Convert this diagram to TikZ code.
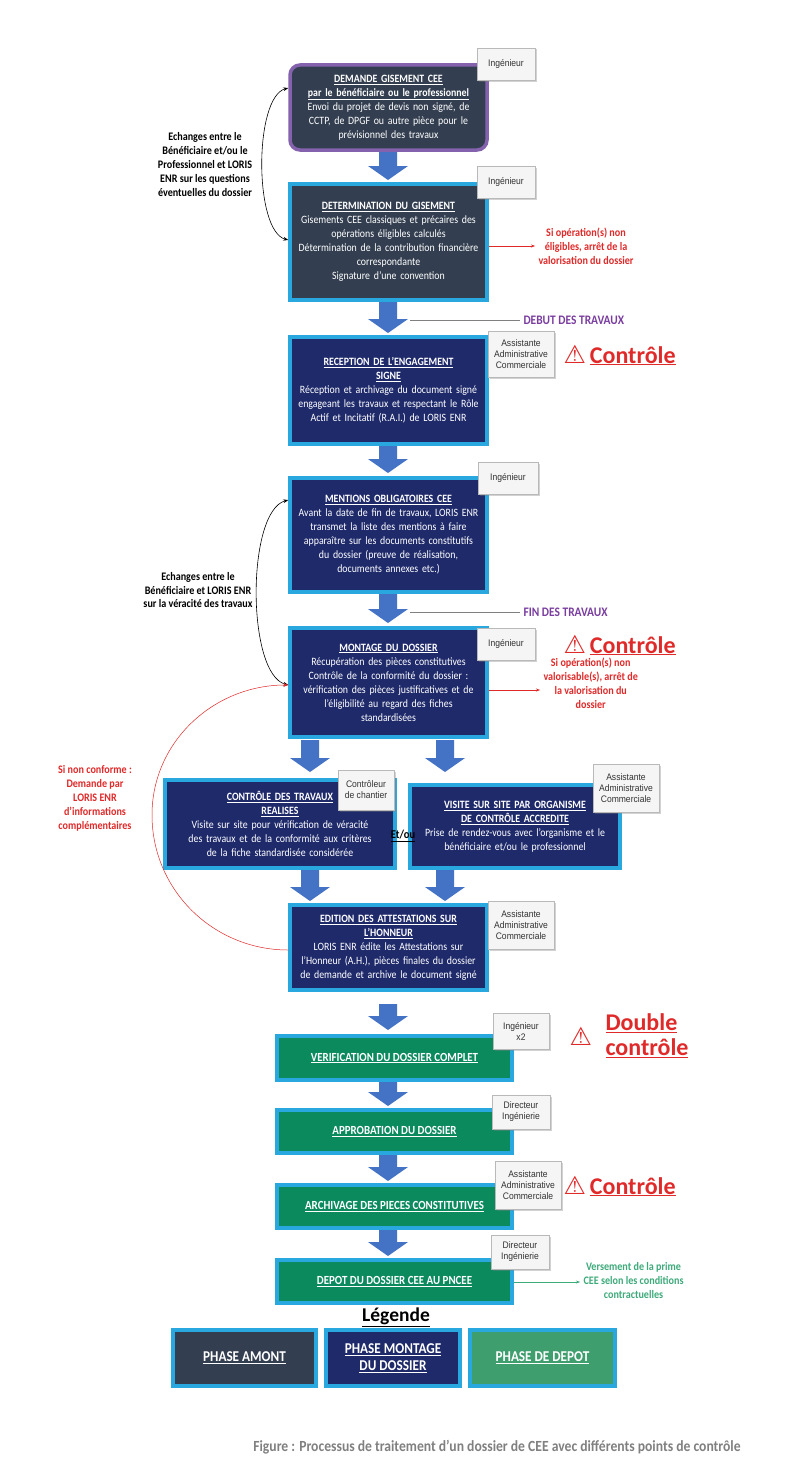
\documentclass[tikz,border=0pt]{standalone}
\usepackage{fontspec}
\setmainfont{Carlito}[FakeStretch=0.88]
\newfontfamily\arialf{Liberation Sans}[FakeStretch=0.9]
\newfontfamily\wideC{Carlito}
\newfontfamily\symf{DejaVu Sans}
\usetikzlibrary{shadows,arrows.meta}
\definecolor{slate}{HTML}{333F50}
\definecolor{navy}{HTML}{1F2A6B}
\definecolor{cyanb}{HTML}{29A8E0}
\definecolor{purp}{HTML}{8462AE}
\definecolor{grn}{HTML}{0B8A5E}
\definecolor{lgrn}{HTML}{3E9E6E}
\definecolor{barrow}{HTML}{4472C4}
\definecolor{redc}{HTML}{E02A2A}
\definecolor{travc}{HTML}{7A3DA0}
\definecolor{txtgrn}{HTML}{3DAA7A}
\newcommand{\ul}[1]{\underline{#1}}
\newcommand{\blockarrow}[3]{% x, ytop, ybottom
  \fill[barrow] (#1-9,#2) -- (#1+9,#2) -- (#1+9,#3-14) -- (#1+20,#3-14) -- (#1,#3) -- (#1-20,#3-14) -- (#1-9,#3-14) -- cycle;}
\newcommand{\tri}{{\symf\fontsize{25}{25}\selectfont ⚠}}
\begin{document}
\begin{tikzpicture}[x=1pt,y=-1pt,
  box/.style={draw=cyanb,line width=3.5pt,text=white,align=center,font=\fontsize{11.2}{14}\selectfont,inner sep=2pt},
  amont/.style={box,fill=slate},
  montage/.style={box,fill=navy},
  depot/.style={box,fill=grn,font=\fontsize{12.4}{14}\selectfont\bfseries},
  tag/.style={draw=gray!55,fill=gray!8,drop shadow={opacity=0.35,shadow xshift=1.5pt,shadow yshift=-1.5pt},font=\arialf\fontsize{9.5}{11}\selectfont,align=center,inner sep=3pt,text=black!80},
  side/.style={font=\bfseries\fontsize{11.5}{14}\selectfont,align=center},
  ctrl/.style={text=redc,font=\wideC\bfseries\fontsize{24}{25}\selectfont,align=left,anchor=west},
  trav/.style={text=travc,font=\bfseries\fontsize{13}{14}\selectfont,anchor=west}]
\useasboundingbox[fill=white] (0,0) rectangle (791,1472);

% main boxes
\node[amont,draw=purp,rounded corners=10pt,minimum width=197,minimum height=85,text width=190] (b1) at (388.5,107.5)
 {\textbf{\ul{DEMANDE GISEMENT CEE}}\\\textbf{\ul{par le bénéficiaire ou le professionnel}}\\Envoi du projet de devis non signé, de\\CCTP, de DPGF ou autre pièce pour le\\prévisionnel des travaux};
\node[amont,minimum width=197,minimum height=116,text width=190] (b2) at (388.5,242)
 {\textbf{\ul{DETERMINATION DU GISEMENT}}\\Gisements CEE classiques et précaires des\\opérations éligibles calculés\\Détermination de la contribution financière\\correspondante\\Signature d’une convention};
\node[montage,minimum width=197,minimum height=107,text width=190] (b3) at (388.5,390.5)
 {\textbf{\ul{RECEPTION DE L’ENGAGEMENT}}\\\textbf{\ul{SIGNE}}\\Réception et archivage du document signé\\engageant les travaux et respectant le Rôle\\Actif et Incitatif (R.A.I.) de LORIS ENR};
\node[montage,minimum width=197,minimum height=114,text width=190] (b4) at (388.5,535)
 {\textbf{\ul{MENTIONS OBLIGATOIRES CEE}}\\Avant la date de fin de travaux, LORIS ENR\\transmet la liste des mentions à faire\\apparaître sur les documents constitutifs\\du dossier (preuve de réalisation,\\documents annexes etc.)};
\node[montage,minimum width=197,minimum height=109,text width=190] (b5) at (388.5,682.5)
 {\textbf{\ul{MONTAGE DU DOSSIER}}\\Récupération des pièces constitutives\\Contrôle de la conformité du dossier :\\vérification des pièces justificatives et de\\l’éligibilité au regard des fiches\\standardisées};
\node[montage,minimum width=230,minimum height=88,text width=222] (b6) at (280,824)
 {\textbf{\ul{CONTRÔLE DES TRAVAUX}}\\\textbf{\ul{REALISES}}\\Visite sur site pour vérification de véracité\\des travaux et de la conformité aux critères\\de la fiche standardisée considérée};
\node[montage,minimum width=210,minimum height=83,text width=204] (b7) at (515,826.5)
 {\textbf{\ul{VISITE SUR SITE PAR ORGANISME}}\\\textbf{\ul{DE CONTRÔLE ACCREDITE}}\\Prise de rendez-vous avec l’organisme et le\\bénéficiaire et/ou le professionnel};
\node[montage,minimum width=197,minimum height=85,text width=190] (b8) at (388.5,947.5)
 {\textbf{\ul{EDITION DES ATTESTATIONS SUR}}\\\textbf{\ul{L’HONNEUR}}\\LORIS ENR édite les Attestations sur\\l’Honneur (A.H.), pièces finales du dossier\\de demande et archive le document signé};
\node[depot,minimum width=235,minimum height=44] (b9) at (394.5,1058) {\ul{VERIFICATION DU DOSSIER COMPLET}};
\node[depot,minimum width=235,minimum height=43] (b10) at (394.5,1131.5) {\ul{APPROBATION DU DOSSIER}};
\node[depot,minimum width=235,minimum height=43] (b11) at (394.5,1206.5) {\ul{ARCHIVAGE DES PIECES CONSTITUTIVES}};
\node[depot,minimum width=235,minimum height=43] (b12) at (394.5,1281.5) {\ul{DEPOT DU DOSSIER CEE AU PNCEE}};

% block arrows
\blockarrow{388}{152}{180}
\blockarrow{388}{302}{333}
\blockarrow{388}{446}{473}
\blockarrow{388}{594}{623}
\blockarrow{310}{740}{772}
\blockarrow{445}{740}{772}
\blockarrow{310}{870}{901}
\blockarrow{445}{870}{901}
\blockarrow{388}{1004}{1030}
\blockarrow{388}{1082}{1106}
\blockarrow{388}{1155}{1181}
\blockarrow{388}{1230}{1256}

% tags
\node[tag,minimum width=58,minimum height=32] (t1) at (506,64) {Ingénieur};
\node[tag,minimum width=58,minimum height=32] (t2) at (506,182) {Ingénieur};
\node[tag,minimum width=66,minimum height=46] (t3) at (521,354) {Assistante\\Administrative\\Commerciale};
\node[tag,minimum width=60,minimum height=32] (t4) at (508,478) {Ingénieur};
\node[tag,minimum width=58,minimum height=32] (t5) at (506,644) {Ingénieur};
\node[tag,minimum width=56,minimum height=40] (t6) at (366,790) {Contrôleur\\de chantier};
\node[tag,minimum width=66,minimum height=48] (t7) at (626,788) {Assistante\\Administrative\\Commerciale};
\node[tag,minimum width=66,minimum height=48] (t8) at (521,925) {Assistante\\Administrative\\Commerciale};
\node[tag,minimum width=56,minimum height=36] (t9) at (521,1031) {Ingénieur\\x2};
\node[tag,minimum width=58,minimum height=34] (t10) at (521,1112) {Directeur\\Ingénierie};
\node[tag,minimum width=66,minimum height=48] (t11) at (528,1185) {Assistante\\Administrative\\Commerciale};
\node[tag,minimum width=58,minimum height=34] (t12) at (520,1252) {Directeur\\Ingénierie};

% side texts
\node[side] (e1) at (205,165) {Echanges entre le\\Bénéficiaire et/ou le\\Professionnel et LORIS\\ENR sur les questions\\éventuelles du dossier};
\draw[{Stealth[length=5pt]}-{Stealth[length=5pt]},line width=0.6pt] (b1.west|-0,88) to[out=195,in=165,looseness=0.6] (b2.west|-0,240);
\node[side] (e2) at (198,590) {Echanges entre le\\Bénéficiaire et LORIS ENR\\sur la véracité des travaux};
\draw[{Stealth[length=5pt]}-{Stealth[length=5pt]},line width=0.6pt] (b4.west|-0,500) to[out=195,in=165,looseness=0.6] (b5.west|-0,685);
\node[side,text=redc] (nc) at (95,798) {Si non conforme :\\Demande par\\LORIS ENR\\d’informations\\complémentaires};
\draw[redc,-{Stealth[length=5pt]},line width=0.5pt] (b8.west|-0,950) to[out=180,in=270] (152,815) to[out=90,in=180] (b5.west|-0,685);

\node[side,text=redc,anchor=west] (s1) at (535,246) {Si opération(s) non\\éligibles, arrêt de la\\valorisation du dossier};
\draw[redc,-{Stealth[length=4pt]},line width=0.5pt] (b2.east|-0,246) -- (s1.west|-0,246);
\node[side,text=redc,anchor=west] (s2) at (540,683) {Si opération(s) non\\valorisable(s), arrêt de\\la valorisation du\\dossier};
\draw[redc,-{Stealth[length=4pt]},line width=0.5pt] (b5.east|-0,690) -- (s2.west|-0,690);
\node[side,text=txtgrn,anchor=west] (s3) at (580,1280) {Versement de la prime\\CEE selon les conditions\\contractuelles};
\draw[txtgrn,-{Stealth[length=4pt]},line width=0.5pt] (b12.east|-0,1282) -- (s3.west|-0,1282);

\node[side,font=\bfseries\fontsize{12}{13}\selectfont] (et) at (403,836) {\ul{Et/ou}};

% travaux markers
\node[trav] (dt) at (520,320) {DEBUT DES TRAVAUX};
\draw[gray,line width=0.5pt] (410,320) -- (dt.west);
\node[trav] (ft) at (520,612) {FIN DES TRAVAUX};
\draw[gray,line width=0.5pt] (410,612) -- (ft.west);

% controls
\node[ctrl] (c1) at (560,355) {\tri\,\ul{Contrôle}};
\node[ctrl] (c2) at (560,645) {\tri\,\ul{Contrôle}};
\node[ctrl] (c3) at (566,1036) {\tri};
\node[ctrl] (c3t) at (602,1036) {\ul{Double}\\\ul{contrôle}};
\node[ctrl] (c4) at (560,1186) {\tri\,\ul{Contrôle}};

% legend
\node[font=\wideC\bfseries\fontsize{19.5}{20}\selectfont] (lg) at (396,1317) {\ul{Légende}};
\node[amont,minimum width=143,minimum height=56,font=\bfseries\fontsize{15}{17}\selectfont] (l1) at (244.5,1358) {\ul{PHASE AMONT}};
\node[montage,minimum width=134,minimum height=56,font=\bfseries\fontsize{15}{17}\selectfont] (l2) at (393,1358) {\ul{PHASE MONTAGE}\\\ul{DU DOSSIER}};
\node[box,fill=lgrn,minimum width=145,minimum height=56,font=\bfseries\fontsize{15}{17}\selectfont] (l3) at (542.5,1358) {\ul{PHASE DE DEPOT}};

\node[text=gray,font=\bfseries\fontsize{15.5}{17}\selectfont] (cap) at (497,1447) {Figure : Processus de traitement d’un dossier de CEE avec différents points de contrôle};
\end{tikzpicture}
\end{document}
